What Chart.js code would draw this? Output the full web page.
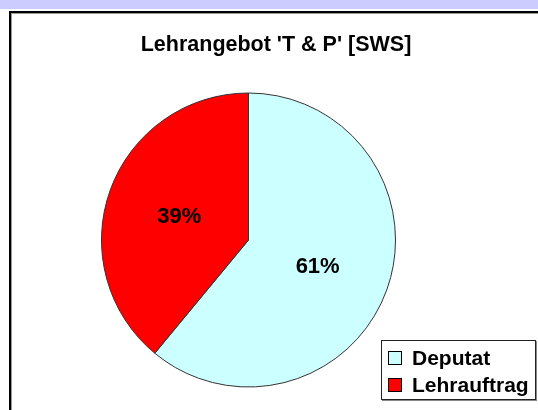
<!DOCTYPE html>
<html>
<head>
<meta charset="utf-8">
<script src="https://cdn.jsdelivr.net/npm/chart.js@4"></script>
<style>
    body { margin: 0; width: 538px; height: 410px; overflow: hidden; background: #fff; position: relative; font-family: "Liberation Sans", Arial, sans-serif; }
    #band { position: absolute; left: 0; top: 0; width: 538px; height: 9px; background: #ccccff; }
    #frame { position: absolute; left: 9px; top: 11px; width: 600px; height: 500px; border-top: 2px solid #000; border-left: 2px solid #000; box-shadow: inset 1px 1px 0 #999; }
    #chart { position: absolute; left: 0; top: 0; }
    #legend { position: absolute; left: 381px; top: 340px; width: 155px; height: 60px; border: 1px solid #222; box-shadow: 1px 1px 0 #888; background: #fff; box-sizing: border-box; padding-top: 3px; }
    #legend .item { display: flex; align-items: center; height: 27px; font-weight: bold; font-size: 21px; }
    #legend .box { width: 12px; height: 12px; border: 1px solid #000; margin: 0 10px 0 6px; }
</style>
</head>
<body>
<div id="band"></div>
<div id="frame"></div>
<canvas id="chart" width="538" height="410"></canvas>
<div id="legend"></div>
<script>
    const title = "Lehrangebot 'T & P' [SWS]";
    const categories = ['Deputat', 'Lehrauftrag'];
    const shares = [61, 39];
    const colours = ['#ccffff', '#ff0000'];

    // Percent labels in the middle of each slice, plus the chart title.
    const labelPlugin = {
        id: 'sliceLabels',
        afterDraw(chart) {
            const c = chart.ctx;
            const total = shares.reduce((a, b) => a + b, 0);
            c.save();
            c.fillStyle = '#000';
            c.textAlign = 'center';
            c.textBaseline = 'middle';
            c.font = 'bold 21.5px "Liberation Sans", Arial, sans-serif';
            c.fillText(title, 276, 45);
            c.font = 'bold 22px "Liberation Sans", Arial, sans-serif';
            chart.getDatasetMeta(0).data.forEach(function (arc, i) {
                const p = arc.tooltipPosition();
                c.fillText(Math.round(shares[i] / total * 100) + '%', p.x, p.y + 2);
            });
            c.restore();
        }
    };

    const ctx = document.getElementById('chart').getContext('2d');
    new Chart(ctx, {
        type: 'pie',
        data: {
            labels: categories,
            datasets: [{
                data: shares,
                backgroundColor: colours,
                borderColor: '#333',
                borderWidth: 1
            }]
        },
        options: {
            responsive: false,
            animation: false,
            layout: { padding: { left: 101, right: 142, top: 92, bottom: 22 } },
            plugins: {
                legend: { display: false },
                tooltip: { enabled: false }
            }
        },
        plugins: [labelPlugin]
    });

    // Legend box in the lower right corner.
    const legend = document.getElementById('legend');
    categories.forEach(function (name, i) {
        const row = document.createElement('div');
        row.className = 'item';
        const box = document.createElement('span');
        box.className = 'box';
        box.style.background = colours[i];
        row.appendChild(box);
        row.appendChild(document.createTextNode(name));
        legend.appendChild(row);
    });
</script>
</body>
</html>
